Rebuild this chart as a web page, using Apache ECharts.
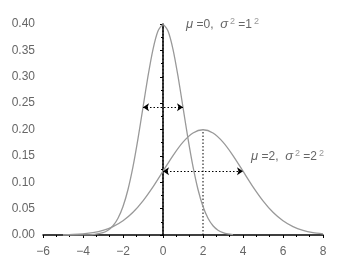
<!DOCTYPE html>
<html><head><meta charset="utf-8">
<script src="https://cdn.jsdelivr.net/npm/echarts@6/dist/echarts.min.js"></script>
<style>html,body{margin:0;padding:0;background:#fff}#c{width:341px;height:262px}</style>
</head><body><div id="c"></div>
<script>
var xTicks = [-6, -4, -2, 0, 2, 4, 6, 8];
var yTicks = [0, 0.05, 0.10, 0.15, 0.20, 0.25, 0.30, 0.35, 0.40];
// N(0,1)
var x1 = [-5,-4.5,-4,-3.5,-3,-2.75,-2.5,-2.25,-2,-1.75,-1.5,-1.25,-1,-0.75,-0.5,-0.25,0,0.25,0.5,0.75,1,1.25,1.5,1.75,2,2.25,2.5,2.75,3,3.25,3.5];
var y1 = [0.0000,0.0000,0.0001,0.0009,0.0044,0.0091,0.0175,0.0317,0.0540,0.0863,0.1295,0.1826,0.2420,0.3011,0.3521,0.3867,0.3989,0.3867,0.3521,0.3011,0.2420,0.1826,0.1295,0.0863,0.0540,0.0317,0.0175,0.0091,0.0044,0.0020,0.0009];
// N(2,2^2)
var x2 = [-5,-4.5,-4,-3.5,-3,-2.5,-2,-1.5,-1,-0.5,0,0.5,1,1.5,2,2.5,3,3.5,4,4.5,5,5.5,6,6.5,7,7.5,8];
var y2 = [0.0004,0.0010,0.0022,0.0045,0.0088,0.0159,0.0270,0.0431,0.0648,0.0913,0.1210,0.1506,0.1760,0.1933,0.1995,0.1933,0.1760,0.1506,0.1210,0.0913,0.0648,0.0431,0.0270,0.0159,0.0088,0.0045,0.0022];
var mean1 = [0, 0.3989], mean2 = [2, 0.1995];
var width1 = [[-1, 0.242], [1, 0.242]];
var width2 = [[0, 0.121], [4, 0.121]];

function pairs(xs, ys){ return xs.map(function(x,i){return [x, ys[i]];}); }
var lab = '#666';
var chart = echarts.init(document.getElementById('c'));
var dotted = {color:'#000', width:1, type:[1.5,2]};
chart.setOption({
  animation:false,
  grid:{left:43, right:18, top:24, bottom:27},
  xAxis:{type:'value', min:-6, max:8, interval:2,
    axisLine:{onZero:false, lineStyle:{color:'#000', width:1.5}},
    axisTick:{length:3, lineStyle:{color:'#000'}},
    minorTick:{show:true, splitNumber:3, length:2, lineStyle:{color:'#000'}},
    splitLine:{show:false},
    axisLabel:{color:lab, fontSize:12, fontFamily:'Liberation Sans, Arial', margin:11,
      formatter:function(v){return v<0?'\u2212'+(-v):String(v);}}},
  yAxis:{type:'value', min:0, max:0.4, interval:0.05,
    axisLine:{show:true, lineStyle:{color:'#000', width:1.5}},
    axisTick:{show:true, length:3, lineStyle:{color:'#000'}},
    minorTick:{show:true, splitNumber:2, length:2, lineStyle:{color:'#000'}},
    splitLine:{show:false},
    axisLabel:{color:lab, fontSize:12, fontFamily:'Liberation Sans, Arial', margin:8,
      formatter:function(v){return v.toFixed(2);}}},
  series:[
    {type:'line', data:[[mean1[0],0], mean1], symbol:'none', lineStyle:dotted, silent:true},
    {type:'line', data:[[mean2[0],0], mean2], symbol:'none', lineStyle:dotted, silent:true},
    {type:'line', data:pairs(x1,y1), smooth:0.25, symbol:'none', lineStyle:{color:'#999', width:1.3},
      markLine:{silent:true, symbol:['arrow','arrow'], symbolSize:[6,6], label:{show:false},
        lineStyle:dotted, data:[[{coord:width1[0]},{coord:width1[1]}]]}},
    {type:'line', data:pairs(x2,y2), smooth:0.25, symbol:'none', lineStyle:{color:'#999', width:1.3},
      markLine:{silent:true, symbol:['arrow','arrow'], symbolSize:[6,6], label:{show:false},
        lineStyle:dotted, data:[[{coord:width2[0]},{coord:width2[1]}]]}}
  ],
  graphic:[
    {type:'text', left:186, top:17, style:{
      text:'{i|\u03bc} =0,  {i|\u03c3}{s|2} =1{s|2}',
      fill:lab, font:'12px Liberation Sans, Arial',
      rich:{i:{fontStyle:'italic', fontSize:13, fill:lab}, s:{fontSize:9, verticalAlign:'top', padding:[0,0,6,2], fill:'#999'}}}},
    {type:'text', left:251, top:149, style:{
      text:'{i|\u03bc} =2,  {i|\u03c3}{s|2} =2{s|2}',
      fill:lab, font:'12px Liberation Sans, Arial',
      rich:{i:{fontStyle:'italic', fontSize:13, fill:lab}, s:{fontSize:9, verticalAlign:'top', padding:[0,0,6,2], fill:'#999'}}}}
  ]
});
</script></body></html>
